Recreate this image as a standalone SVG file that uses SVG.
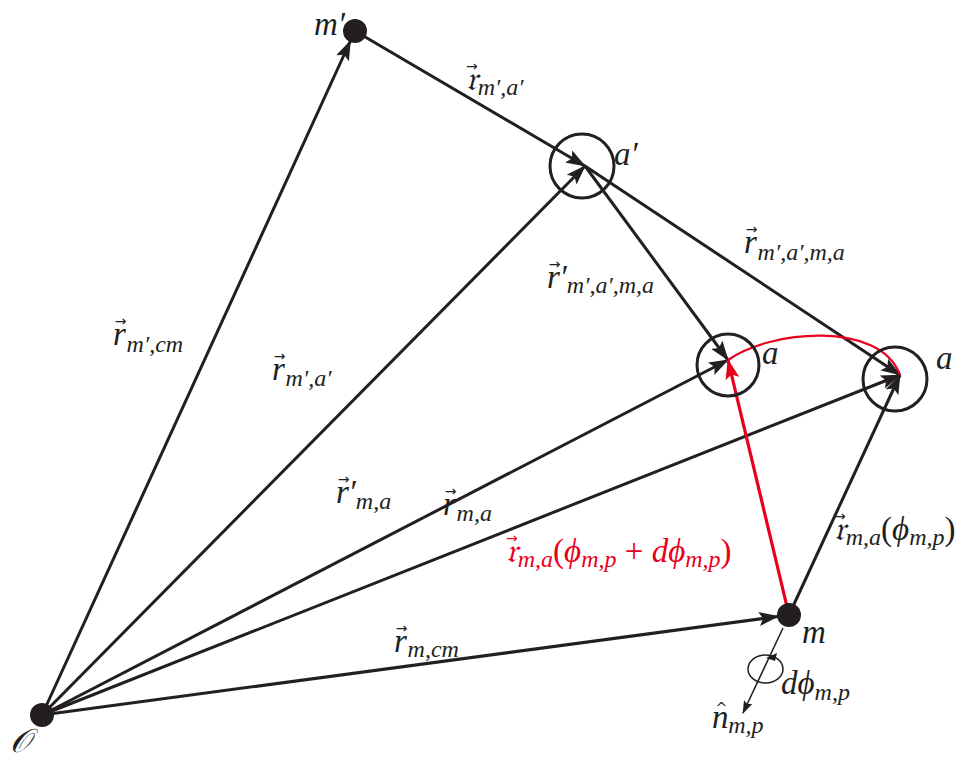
<svg xmlns="http://www.w3.org/2000/svg" width="975" height="759" viewBox="0 0 975 759">
<defs>
<style>
.ln{stroke:#231f20;stroke-width:3;fill:none}
.rd{stroke:#e8001c;stroke-width:3.2;fill:none}
.thin{stroke:#231f20;stroke-width:1.5;fill:none}
.dot{fill:#231f20}
.ring{fill:none;stroke:#231f20;stroke-width:3}
.t{font-family:"Liberation Serif","DejaVu Serif",serif;font-style:italic;font-size:33px;fill:#231f20}
.s{font-size:24px}
.up{font-style:normal}
.red{fill:#e8001c}
.v{font-family:"DejaVu Sans",sans-serif;font-style:normal;font-size:14px}
</style>
<marker id="ah" markerUnits="userSpaceOnUse" markerWidth="20" markerHeight="14" refX="19" refY="7" orient="auto">
<path d="M0,0 L20,7 L0,14 L4,7 Z" fill="#231f20"/>
</marker>
<marker id="ahr" markerUnits="userSpaceOnUse" markerWidth="20" markerHeight="14" refX="19" refY="7" orient="auto">
<path d="M0,0 L20,7 L0,14 L4,7 Z" fill="#e8001c"/>
</marker>
<marker id="ahs" markerUnits="userSpaceOnUse" markerWidth="13" markerHeight="9" refX="12" refY="4.5" orient="auto">
<path d="M0,0 L13,4.5 L0,9 L2,4.5 Z" fill="#231f20"/>
</marker>
</defs>
<rect width="975" height="759" fill="#ffffff"/>

<g id="connectors">
<path class="ln" d="M42,715 L350.4,41" marker-end="url(#ah)"/>
<path class="ln" d="M355,31 L585,166" marker-end="url(#ah)"/>
<path class="ln" d="M42,715 L585,166" marker-end="url(#ah)"/>
<path class="ln" d="M585,166 L728,360" marker-end="url(#ah)"/>
<path class="ln" d="M585,166 L900,375" marker-end="url(#ah)"/>
<path class="ln" d="M42,715 L728,360" marker-end="url(#ah)"/>
<path class="ln" d="M42,715 L900,375" marker-end="url(#ah)"/>
<path class="ln" d="M42,715 L778,616.5" marker-end="url(#ah)"/>
<path class="ln" d="M789,615 L900,375" marker-end="url(#ah)"/>
<path class="rd" d="M789,615 L728,360" marker-end="url(#ahr)"/>
<path class="rd" d="M728,360 C770,330 880,320 900,375" style="stroke-width:2.2"/>
<path class="thin" d="M783,628 L743,713" marker-end="url(#ahs)"/>
<ellipse class="thin" cx="765.5" cy="669" rx="17.5" ry="14"/>
<path d="M766,658 L777,653 L775,661 Z" fill="#231f20"/>
</g>

<g id="node-O">
<circle class="dot" cx="42" cy="715" r="12"/>
<text class="t" x="10" y="752">𝒪</text>
</g>
<g id="node-mprime">
<circle class="dot" cx="355" cy="31" r="12"/>
<text class="t" x="314" y="35">m′</text>
</g>
<g id="node-aprime">
<circle class="ring" cx="582" cy="166" r="32"/>
<text class="t" x="614" y="165">a′</text>
</g>
<g id="node-a1">
<circle class="ring" cx="728" cy="365" r="31"/>
<text class="t" x="762" y="364">a</text>
</g>
<g id="node-a2">
<circle class="ring" cx="895" cy="379" r="32"/>
<text class="t" x="936" y="369">a</text>
</g>
<g id="node-m">
<circle class="dot" cx="789" cy="615" r="12"/>
<text class="t" x="802" y="643">m</text>
</g>

<g id="labels">
<text class="t" x="113" y="345">r<tspan class="v" dx="-11" dy="-19">→</tspan><tspan class="s" dx="0" dy="26">m′,cm</tspan></text>

<text class="t" x="272" y="380">r<tspan class="v" dx="-11" dy="-19">→</tspan><tspan class="s" dy="25">m′,a′</tspan></text>

<text class="t" x="336" y="503">r<tspan class="v" dx="-11" dy="-19">→</tspan><tspan dx="-1" dy="19">′</tspan><tspan class="s" dy="6">m,a</tspan></text>

<text class="t" x="443" y="515">r<tspan class="v" dx="-11" dy="-19">→</tspan><tspan class="s" dy="25">m,a</tspan></text>

<text class="t" x="394" y="652">r<tspan class="v" dx="-11" dy="-19">→</tspan><tspan class="s" dy="24">m,cm</tspan></text>

<text class="t" x="466" y="90">𝔯<tspan class="v" dx="-12" dy="-19">→</tspan><tspan class="s" dy="24">m′,a′</tspan></text>

<text class="t" x="547" y="288">r<tspan class="v" dx="-11" dy="-19">→</tspan><tspan dx="-1" dy="19">′</tspan><tspan class="s" dy="5">m′,a′,m,a</tspan></text>

<text class="t" x="744" y="253">r<tspan class="v" dx="-11" dy="-19">→</tspan><tspan class="s" dy="26">m′,a′,m,a</tspan></text>

<text class="t red" x="506" y="562">𝔯<tspan class="v" dx="-12" dy="-19">→</tspan><tspan class="s" dy="24">m,a</tspan><tspan class="up" dy="-5">(</tspan>ϕ<tspan class="s" dy="5">m,p</tspan><tspan class="up" dy="-5"> + </tspan>dϕ<tspan class="s" dy="5">m,p</tspan><tspan class="up" dy="-5">)</tspan></text>

<text class="t" x="834" y="540">𝔯<tspan class="v" dx="-12" dy="-19">→</tspan><tspan class="s" dy="24">m,a</tspan><tspan class="up" dy="-5">(</tspan>ϕ<tspan class="s" dy="5">m,p</tspan><tspan class="up" dy="-5">)</tspan></text>

<text class="t" x="781" y="694">dϕ<tspan class="s" dy="6">m,p</tspan></text>

<text class="t" x="712" y="728">n<tspan class="v" dx="-13" dy="-15">^</tspan><tspan class="s" dx="1" dy="20">m,p</tspan></text>
</g>
</svg>
